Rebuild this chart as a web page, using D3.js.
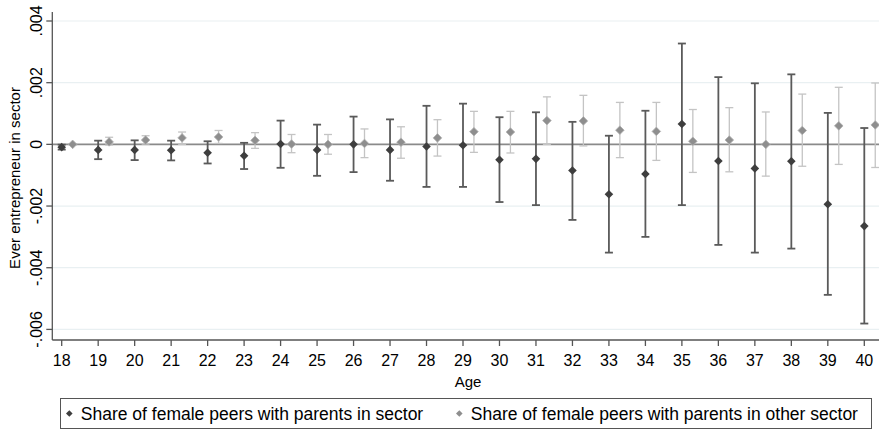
<!DOCTYPE html>
<html>
<head>
<meta charset="utf-8">
<script src="https://d3js.org/d3.v7.min.js"></script>
<style>
  body { margin: 0; background: #fff; }
  text { font-family: "Liberation Sans", Arial, sans-serif; fill: #000; }
</style>
</head>
<body>
<div id="vis"></div>
<script>
// Ages on the x axis
var ages = [18,19,20,21,22,23,24,25,26,27,28,29,30,31,32,33,34,35,36,37,38,39,40];

// Share of female peers with parents in sector (estimate, lower CI, upper CI)
var inEst = [-0.00009,-0.00018,-0.00018,-0.00019,-0.00027,-0.00037,0.00001,-0.00018,0.00000,-0.00018,-0.00007,-0.00003,-0.00050,-0.00047,-0.00085,-0.00162,-0.00096,0.00066,-0.00054,-0.00078,-0.00055,-0.00194,-0.00265];
var inLo  = [-0.00017,-0.00048,-0.00051,-0.00052,-0.00062,-0.00080,-0.00076,-0.00102,-0.00090,-0.00118,-0.00138,-0.00138,-0.00187,-0.00197,-0.00245,-0.00351,-0.00300,-0.00197,-0.00326,-0.00351,-0.00338,-0.00488,-0.00581];
var inHi  = [-0.00001,0.00012,0.00013,0.00012,0.00010,0.00005,0.00077,0.00064,0.00090,0.00081,0.00125,0.00132,0.00088,0.00104,0.00073,0.00028,0.00109,0.00327,0.00218,0.00198,0.00227,0.00102,0.00053];

// Share of female peers with parents in other sector
var otherEst = [0.00000,0.00008,0.00014,0.00021,0.00024,0.00013,0.00001,0.00000,0.00003,0.00007,0.00021,0.00041,0.00040,0.00077,0.00076,0.00046,0.00042,0.00010,0.00014,0.00000,0.00045,0.00060,0.00063];
var otherLo  = [-0.00002,-0.00002,0.00001,0.00000,0.00003,-0.00013,-0.00027,-0.00032,-0.00043,-0.00045,-0.00038,-0.00026,-0.00028,0.00000,-0.00005,-0.00043,-0.00052,-0.00091,-0.00089,-0.00103,-0.00071,-0.00065,-0.00075];
var otherHi  = [0.00002,0.00023,0.00028,0.00040,0.00045,0.00038,0.00032,0.00032,0.00050,0.00057,0.00080,0.00107,0.00107,0.00154,0.00159,0.00136,0.00136,0.00113,0.00119,0.00105,0.00163,0.00185,0.00199];

var yTicks = [-0.006,-0.004,-0.002,0,0.002,0.004];
var seriesNames = ["Share of female peers with parents in sector", "Share of female peers with parents in other sector"];

width = 879;
height = 429;

var plotLeft = 52.3, plotRight = 879, plotTop = 12, plotBottom = 340;

var x = d3.scaleLinear().domain([18, 40]).range([61.7, 864.3]);
var y = d3.scaleLinear().domain([-0.006, 0.004]).range([329.4, 21]);

// Stata style tick labels: .004, -.002, 0 (plain hyphen, no leading zero)
var fmt = function(v) {
    if (v === 0) return "0";
    return (v < 0 ? "-" : "") + Math.abs(v).toFixed(3).replace("0.", ".");
};

var svg = d3.select("#vis").append("svg")
    .attr("width", width)
    .attr("height", height);

// Build one row per age/series so every mark comes from the arrays
var rows = [];
ages.forEach((a, i) => {
    rows.push({age: a, off: 0, est: inEst[i], lo: inLo[i], hi: inHi[i], s: 0});
    rows.push({age: a, off: 0.3, est: otherEst[i], lo: otherLo[i], hi: otherHi[i], s: 1});
});

var lineCol = ["#5a5a5a", "#c4c4c4"];
var markCol = ["#3e3e3e", "#8e8e8e"];
var lineW = [1.8, 1.3];

// gridlines
svg.append("g").selectAll("line")
    .data(yTicks.filter(d => d !== 0))
    .enter().append("line")
    .attr("x1", plotLeft).attr("x2", plotRight)
    .attr("y1", d => y(d)).attr("y2", d => y(d))
    .style("stroke", "#e9f0f2").style("stroke-width", 1.2);

// zero reference line
svg.append("line")
    .attr("x1", plotLeft).attr("x2", plotRight)
    .attr("y1", y(0)).attr("y2", y(0))
    .style("stroke", "#8a8a8a").style("stroke-width", 1.8);

// confidence intervals, light series first so dark ones sit on top
var ci = svg.append("g").selectAll("g")
    .data(rows.slice().sort((a, b) => b.s - a.s))
    .enter().append("g");

ci.append("line")
    .attr("x1", d => x(d.age + d.off)).attr("x2", d => x(d.age + d.off))
    .attr("y1", d => y(d.lo)).attr("y2", d => y(d.hi))
    .style("stroke", d => lineCol[d.s]).style("stroke-width", d => lineW[d.s]);

["lo", "hi"].forEach(k => {
    ci.append("line")
        .attr("x1", d => x(d.age + d.off) - 4).attr("x2", d => x(d.age + d.off) + 4)
        .attr("y1", d => y(d[k])).attr("y2", d => y(d[k]))
        .style("stroke", d => lineCol[d.s]).style("stroke-width", d => lineW[d.s]);
});

// diamond markers
var diamond = r => "M0," + (-r) + "L" + r + ",0L0," + r + "L" + (-r) + ",0Z";

svg.append("g").selectAll("path")
    .data(rows)
    .enter().append("path")
    .attr("d", diamond(4.3))
    .attr("transform", d => "translate(" + x(d.age + d.off) + "," + y(d.est) + ")")
    .style("fill", d => markCol[d.s])
    .style("stroke", d => d.s ? "#b0b0b0" : "none")
    .style("stroke-width", 0.8);

// y axis
var yAxis = svg.append("g");
yAxis.append("line")
    .attr("x1", plotLeft).attr("x2", plotLeft)
    .attr("y1", plotTop).attr("y2", plotBottom)
    .style("stroke", "#555").style("stroke-width", 1.3);
yAxis.selectAll("line.tick")
    .data(yTicks).enter().append("line")
    .attr("class", "tick")
    .attr("x1", plotLeft - 6).attr("x2", plotLeft)
    .attr("y1", d => y(d)).attr("y2", d => y(d))
    .style("stroke", "#555").style("stroke-width", 1.3);
yAxis.selectAll("text")
    .data(yTicks).enter().append("text")
    .attr("transform", d => "translate(41.5," + y(d) + ") rotate(-90)")
    .style("text-anchor", "middle")
    .style("font-size", "16px")
    .text(fmt);

// x axis
var xAxis = svg.append("g");
xAxis.append("line")
    .attr("x1", plotLeft).attr("x2", plotRight)
    .attr("y1", plotBottom).attr("y2", plotBottom)
    .style("stroke", "#555").style("stroke-width", 1.3);
xAxis.selectAll("line.tick")
    .data(ages).enter().append("line")
    .attr("class", "tick")
    .attr("x1", d => x(d)).attr("x2", d => x(d))
    .attr("y1", plotBottom).attr("y2", plotBottom + 6)
    .style("stroke", "#555").style("stroke-width", 1.3);
xAxis.selectAll("text")
    .data(ages).enter().append("text")
    .attr("x", d => x(d)).attr("y", 365.5)
    .style("text-anchor", "middle")
    .style("font-size", "16px")
    .text(d => d);

// axis titles
svg.append("text")
    .attr("x", 468).attr("y", 386.5)
    .style("text-anchor", "middle").style("font-size", "15px")
    .text("Age");
svg.append("text")
    .attr("transform", "translate(20,178) rotate(-90)")
    .style("text-anchor", "middle").style("font-size", "15px")
    .text("Ever entrepreneur in sector");

// legend
var legend = svg.append("g");
legend.append("rect")
    .attr("x", 60.5).attr("y", 398.5).attr("width", 811).attr("height", 30)
    .style("fill", "#fff").style("stroke", "#555").style("stroke-width", 1);

var legX = [69.3, 459.3];
var leg = legend.selectAll("g.item")
    .data(seriesNames).enter().append("g")
    .attr("class", "item")
    .attr("transform", (d, i) => "translate(" + legX[i] + ",413.5)");
leg.append("path")
    .attr("d", diamond(3.3))
    .style("fill", (d, i) => markCol[i]);
leg.append("text")
    .attr("x", 11.5).attr("y", 6.5)
    .style("font-size", "17.5px")
    .text(d => d);
</script>
</body>
</html>
